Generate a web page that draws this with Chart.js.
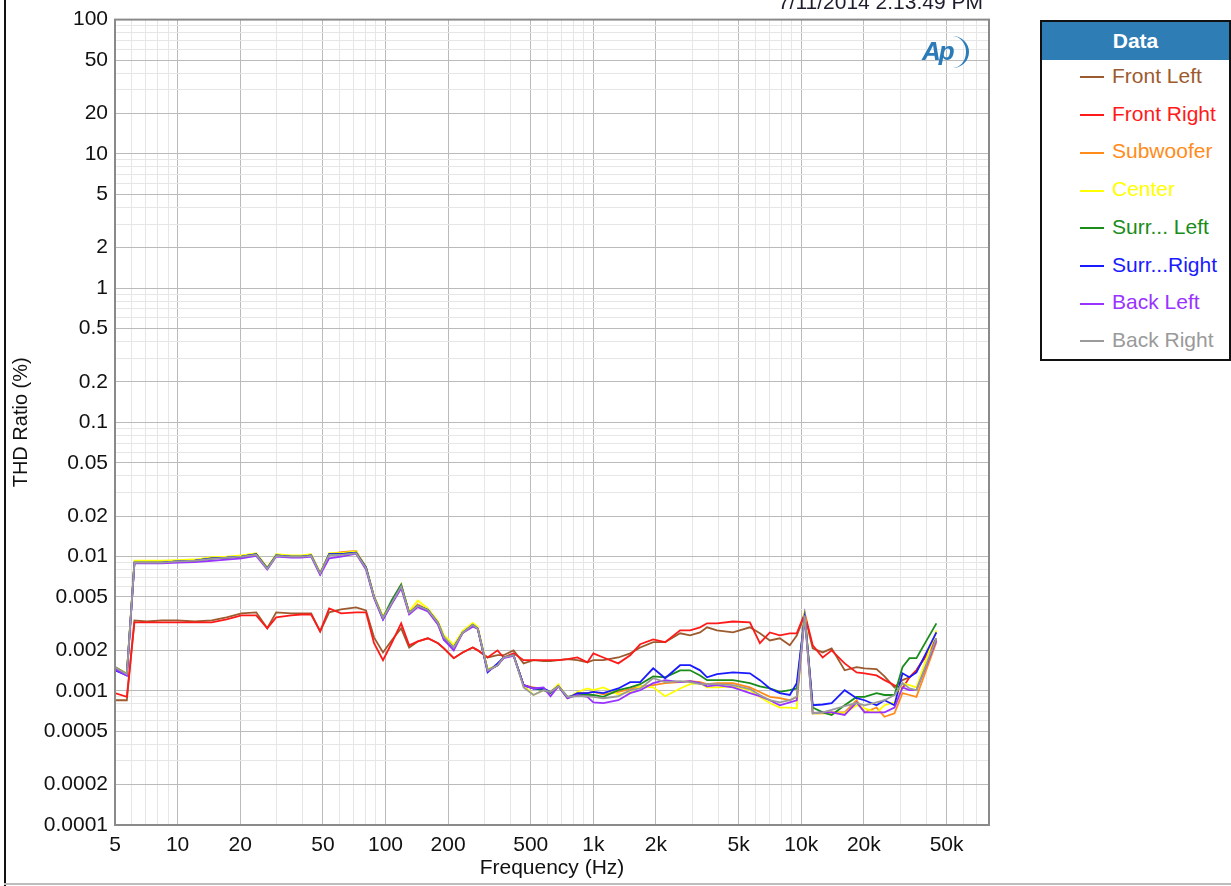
<!DOCTYPE html>
<html><head><meta charset="utf-8">
<script src="https://cdn.jsdelivr.net/npm/chart.js@4.4.1/dist/chart.umd.min.js"></script>
<style>
html,body{margin:0;padding:0;background:#fff;}
#wrap{position:relative;width:1231px;height:886px;overflow:hidden;font-family:"Liberation Sans",Arial,sans-serif;background:#fff;}
#c{position:absolute;left:0;top:0;}
#stamp{position:absolute;right:248px;top:-10px;font-size:21px;color:#1c1c2c;white-space:nowrap;}
#lborder{position:absolute;left:4px;top:0;width:2px;height:886px;background:#111;}
#bborder{position:absolute;left:4px;top:883px;width:1227px;height:2px;background:#bdbdbd;}
#legend{position:absolute;left:1040px;top:20px;width:187px;height:337px;border:2px solid #111;background:#fff;}
#legend .hd{background:#2e7db5;color:#fff;font-weight:bold;text-align:center;height:38px;line-height:38px;font-size:21px;}
#legend .item{position:absolute;left:38px;height:24px;line-height:24px;font-size:21px;white-space:nowrap;}
#legend .sw{display:inline-block;width:24px;height:2px;vertical-align:middle;margin-right:8px;}
#logo{position:absolute;left:922px;top:36px;font:italic bold 26px "Liberation Sans",Arial,sans-serif;color:#2b7bb9;letter-spacing:-2px;}
#logoarc{position:absolute;left:936px;top:36px;width:30px;height:32px;border-right:3px solid #2b7bb9;border-radius:50%;}
</style></head>
<body>
<div id="wrap">
<canvas id="c" width="1231" height="886"></canvas>
<div id="lborder"></div><div id="bborder"></div>
<div id="stamp">7/11/2014 2:13:49 PM</div>
<div id="logoarc"></div><div id="logo">Ap</div>
<div id="legend"><div class="hd">Data</div></div>
</div>
<script>
const freqHz = [5,5.7,6.2,7.1,8.4,10,12.1,14.6,17.2,20.3,
23.9,27,29.8,35.2,39.3,43.9,48.5,53.6,61.2,72.2,
80.6,88.1,97.3,107,119,130,143,160,179,191,
213,235,263,278,310,346,370,413,462,515,
576,622,679,751,838,936,1000,1117,1318,1504,
1680,1940,2214,2614,2919,3261,3523,3933,4693,5662,
6324,7063,7885,8807,9515,10395,11355,12681,14004,16170,
18460,20170,23020,25150,28080,30680,33150,35810,44670];

const frontLeft = [0.00085,0.00085,0.00334,0.00328,0.00334,0.00334,0.00328,0.00334,0.00352,0.00377,
0.00384,0.00292,0.00384,0.00377,0.00377,0.00377,0.00277,0.00384,0.00404,0.00418,
0.00397,0.0025,0.00193,0.00237,0.00292,0.0021,0.00233,0.00246,0.00226,0.00207,
0.00175,0.00193,0.0021,0.002,0.00177,0.00184,0.00184,0.002,0.0016,0.00169,
0.00166,0.00166,0.00169,0.00172,0.00169,0.00163,0.00169,0.00169,0.00177,0.0019,
0.0021,0.0023,0.0023,0.00268,0.00259,0.00272,0.00297,0.00282,0.00272,0.00297,
0.00268,0.00237,0.00246,0.00218,0.00258,0.00364,0.00207,0.00193,0.00207,0.00142,
0.0015,0.00147,0.00145,0.00128,0.00106,0.0012,0.00126,0.00142,0.00246];

const frontRight = [0.00096,0.0009,0.00323,0.00323,0.00323,0.00323,0.00323,0.00323,0.0034,0.00364,
0.00364,0.00292,0.00352,0.00364,0.0037,0.0037,0.00277,0.00411,0.00377,0.00384,
0.00384,0.00226,0.00169,0.00226,0.00318,0.00218,0.00233,0.00246,0.00226,0.00207,
0.00175,0.00193,0.0021,0.002,0.00177,0.002,0.00177,0.0019,0.00169,0.00169,
0.00169,0.00169,0.00169,0.00172,0.00177,0.00163,0.0019,0.00177,0.0016,0.00184,
0.00222,0.00241,0.0023,0.00282,0.00282,0.00297,0.00318,0.00318,0.00328,0.00323,
0.00226,0.00272,0.00259,0.00268,0.00268,0.00377,0.00218,0.00177,0.002,0.0016,
0.00137,0.00135,0.0013,0.0012,0.0011,0.00104,0.00126,0.00142,0.00237];

const subwoofer = [0.0015,0.00133,0.0090,0.0090,0.0090,0.0092,0.0093,0.0097,0.0098,0.0100,
0.0104,0.0082,0.0102,0.0100,0.0100,0.0102,0.0075,0.0104,0.0108,0.0110,
0.0083,0.0050,0.0035,0.0045,0.0061,0.0038,0.0044,0.0040,0.0032,0.0025,
0.0021,0.0027,0.0031,0.0029,0.00142,0.00155,0.00177,0.00184,
0.0011,0.00106,0.00103,0.00098,0.00108,0.00088,0.00096,0.00096,0.00098,0.00094,0.00098,0.00103,
0.00108,0.0011,0.00114,0.00116,0.00118,0.00116,0.00112,0.00114,0.00114,0.00106,
0.00098,0.0009,0.00088,0.00085,0.0009,0.00384,0.00068,0.00068,0.00069,0.00069,
0.00085,0.00069,0.00075,0.00064,0.00068,0.00096,0.00093,0.0009,0.0023];

const center = [0.0015,0.00135,0.0093,0.0093,0.0093,0.0094,0.0095,0.0099,0.0100,0.0102,
0.0106,0.0083,0.0104,0.0102,0.0102,0.0104,0.0076,0.0106,0.0106,0.0109,
0.0084,0.0051,0.0036,0.0046,0.0062,0.0039,0.0047,0.0041,0.0033,0.0026,
0.0022,0.0028,0.0032,0.0030,0.00145,0.00155,0.00177,0.00184,
0.0011,0.00093,0.00101,0.00098,0.00112,0.00088,0.00098,0.00104,0.00101,0.00106,0.00094,0.00098,
0.00108,0.00106,0.00091,0.00104,0.00112,0.00114,0.00106,0.00106,0.00108,0.00101,
0.0009,0.00081,0.00075,0.00075,0.00074,0.00397,0.00068,0.00068,0.00068,0.00068,
0.00078,0.00074,0.00069,0.00078,0.00082,0.00114,0.0011,0.00106,0.00282];

const surrLeft = [0.0015,0.00133,0.0090,0.0090,0.0090,0.0092,0.0093,0.0097,0.0098,0.0100,
0.0104,0.0082,0.0102,0.0100,0.0100,0.0102,0.0075,0.0104,0.0104,0.0107,
0.0083,0.0050,0.0035,0.0047,0.0062,0.0038,0.0043,0.0040,0.0032,0.0025,
0.0021,0.0027,0.0031,0.0029,0.00142,0.00155,0.00177,0.00184,
0.0011,0.00104,0.00101,0.00096,0.00108,0.0009,0.00093,0.00093,0.00093,0.0009,0.00101,0.00106,
0.00112,0.00128,0.00126,0.00142,0.00142,0.0013,0.0012,0.0012,0.0012,0.00114,
0.00108,0.00104,0.00098,0.00101,0.00104,0.0037,0.00075,0.00069,0.00066,0.00078,
0.0009,0.0009,0.00096,0.00093,0.00093,0.0015,0.00175,0.00175,0.00318];

const surrRight = [0.00142,0.0013,0.0090,0.0090,0.0090,0.0092,0.0093,0.0097,0.0098,0.0100,
0.0104,0.0081,0.0102,0.0100,0.0100,0.0102,0.0074,0.0104,0.0104,0.0107,
0.0083,0.0050,0.0034,0.0045,0.0060,0.0038,0.0043,0.0040,0.0032,0.0024,
0.0021,0.0027,0.0031,0.0029,0.00137,0.0016,0.00177,0.00184,
0.0011,0.00104,0.00104,0.00098,0.00108,0.00088,0.00096,0.00096,0.00098,0.00096,0.00104,0.00116,
0.00116,0.00147,0.00124,0.00155,0.00155,0.00142,0.00126,0.00133,0.00137,0.00135,
0.0012,0.00104,0.00096,0.00093,0.00114,0.00358,0.00078,0.00079,0.00081,0.00101,
0.00088,0.00085,0.00078,0.00085,0.00078,0.00135,0.00126,0.00137,0.00272];

const backLeft = [0.00145,0.0013,0.0089,0.0089,0.0089,0.0090,0.0091,0.0093,0.0095,0.0097,
0.0101,0.0080,0.0100,0.0098,0.0098,0.0100,0.0073,0.0097,0.0100,0.0105,
0.0080,0.0049,0.0034,0.0044,0.0058,0.0037,0.0042,0.0039,0.0031,0.0024,
0.0020,0.0027,0.0030,0.0029,0.0014,0.00155,0.00175,0.00182,
0.0011,0.00104,0.00106,0.00091,0.00108,0.00088,0.00093,0.0009,0.00082,0.00081,0.00085,0.00096,
0.00101,0.00114,0.0012,0.00116,0.00118,0.00114,0.00108,0.0011,0.00106,0.00096,
0.00091,0.00085,0.00078,0.00082,0.00085,0.00352,0.00068,0.00069,0.00069,0.00066,
0.00082,0.00069,0.00069,0.00069,0.00075,0.00106,0.00101,0.00101,0.00237];

const backRight = [0.0015,0.00133,0.0090,0.0090,0.0090,0.0092,0.0093,0.0096,0.0098,0.0100,
0.0103,0.0081,0.0101,0.0100,0.0100,0.0101,0.0075,0.0103,0.0103,0.0106,
0.0082,0.0050,0.0035,0.0045,0.0060,0.0038,0.0043,0.0040,0.0032,0.0025,
0.0021,0.0027,0.0031,0.0029,0.00142,0.00155,0.00177,0.00184,
0.00106,0.00093,0.00101,0.00098,0.00108,0.0009,0.00091,0.00091,0.0009,0.00088,0.00091,0.00101,
0.00104,0.00124,0.00116,0.00118,0.00116,0.00112,0.00112,0.00112,0.0011,0.00103,
0.00093,0.00085,0.00082,0.00085,0.0009,0.00364,0.00068,0.00069,0.00072,0.00077,
0.00081,0.00078,0.00082,0.00085,0.00093,0.00114,0.00104,0.00101,0.00246];

const seriesNames = ['Front Left','Front Right','Subwoofer','Center','Surr... Left','Surr...Right','Back Left','Back Right'];
const seriesColors = ['#9c5b2e','#ff1a1a','#ff8c1a','#ffff00','#1a8c1a','#1a1aff','#9933ff','#9a9a9a'];
const seriesData = [frontLeft,frontRight,subwoofer,center,surrLeft,surrRight,backLeft,backRight];

const xTickValues = [5,10,20,50,100,200,500,1000,2000,5000,10000,20000,50000];
const xTickLabels = ['5','10','20','50','100','200','500','1k','2k','5k','10k','20k','50k'];
const yTickValues = [100,50,20,10,5,2,1,0.5,0.2,0.1,0.05,0.02,0.01,0.005,0.002,0.001,0.0005,0.0002,0.0001];
const yTickLabels = ['100','50','20','10','5','2','1','0.5','0.2','0.1','0.05','0.02','0.01','0.005','0.002','0.001','0.0005','0.0002','0.0001'];

const xMin = 5, xMax = 80000, yMin = 0.0001, yMax = 100;

function gridValues(min, max){
  const out=[];
  for(let e=Math.floor(Math.log10(min)); e<=Math.ceil(Math.log10(max)); e++){
    for(let m=1;m<=9;m++){
      const v = parseFloat((m*Math.pow(10,e)).toPrecision(6));
      if(v>=min*0.9999 && v<=max*1.0001) out.push(v);
    }
  }
  return out;
}
function isMajor(v){
  const e=Math.floor(Math.log10(v)+1e-9);
  const m=Math.round(v/Math.pow(10,e));
  return m===1||m===2||m===5;
}
function labelFor(value, vals, labels){
  for(let i=0;i<vals.length;i++){ if(Math.abs(vals[i]-value)/vals[i] < 1e-6) return labels[i]; }
  return '';
}

const leg = document.getElementById('legend');
seriesNames.forEach((n,i)=>{
  const d=document.createElement('div'); d.className='item';
  d.style.top=(42+i*37.7)+'px'; d.style.color=seriesColors[i];
  d.innerHTML='<span class="sw" style="background:'+seriesColors[i]+'"></span>'+n;
  leg.appendChild(d);
});

const datasets = seriesNames.map((n,i)=>({
  label:n,
  data: freqHz.map((f,j)=>({x:f,y:seriesData[i][j]})),
  borderColor: seriesColors[i],
  backgroundColor: seriesColors[i],
  borderWidth:1.8,
  pointRadius:0,
  tension:0,
  fill:false,
  order: 8-i
}));

const framePlugin = {id:'frame', afterDraw(chart){
  const {ctx, chartArea:a} = chart;
  ctx.save(); ctx.strokeStyle='#8a8a8a'; ctx.lineWidth=2;
  ctx.strokeRect(a.left, a.top, a.right-a.left, a.bottom-a.top);
  ctx.restore();
}};

const tickFont = {family:'"Liberation Sans", Arial, sans-serif', size:21};
new Chart(document.getElementById('c'), {
  type:'line',
  data:{datasets},
  plugins:[framePlugin],
  options:{
    responsive:false, animation:false, maintainAspectRatio:false,
    layout:{padding:{left:0,top:18,right:242,bottom:0}},
    plugins:{legend:{display:false}, tooltip:{enabled:false}},
    scales:{
      x:{
        type:'logarithmic', min:xMin, max:xMax,
        afterBuildTicks:(s)=>{ s.ticks = gridValues(xMin,xMax).map(v=>({value:v})); },
        afterFit:(s)=>{ s.height = 61; },
        grid:{drawTicks:false, color:(c)=> (c.tick && isMajor(c.tick.value)) ? '#bababa' : '#e6e6e6', lineWidth:1},
        border:{display:false},
        ticks:{autoSkip:false, maxRotation:0, minRotation:0, padding:8, color:'#111', font:tickFont,
          callback:(v)=>labelFor(v, xTickValues, xTickLabels)},
        title:{display:true, text:'Frequency (Hz)', color:'#111', font:tickFont, padding:{top:0,bottom:5}}
      },
      y:{
        type:'logarithmic', min:yMin, max:yMax,
        afterBuildTicks:(s)=>{ s.ticks = gridValues(yMin,yMax).map(v=>({value:v})); },
        afterFit:(s)=>{ s.width = 115; },
        grid:{drawTicks:false, color:(c)=> (c.tick && isMajor(c.tick.value)) ? '#bababa' : '#e6e6e6', lineWidth:1},
        border:{display:false},
        ticks:{autoSkip:false, padding:7, color:'#111', font:tickFont,
          callback:(v)=>labelFor(v, yTickValues, yTickLabels)},
        title:{display:true, text:'THD Ratio (%)', color:'#111', font:{family:'"Liberation Sans", Arial, sans-serif', size:20}, padding:{top:9,bottom:0}}
      }
    }
  }
});
</script>
</body></html>
